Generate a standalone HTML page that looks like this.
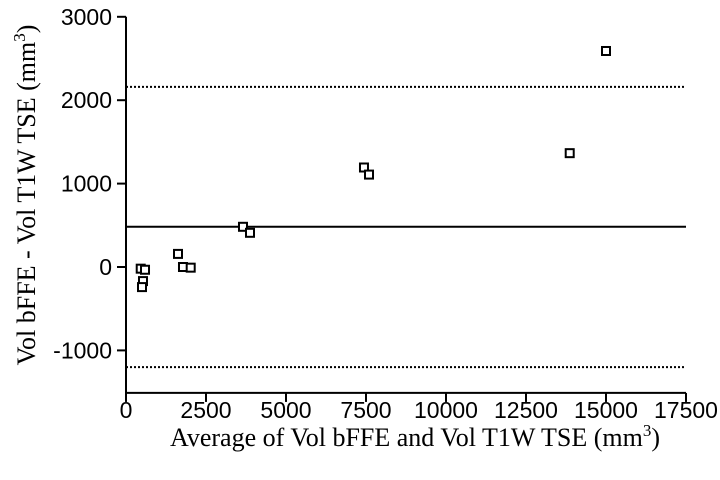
<!DOCTYPE html>
<html><head><meta charset="utf-8"><style>
body{margin:0;background:#fff;}
svg{display:block;}
</style></head><body>
<svg id="chart" width="720" height="480" xmlns="http://www.w3.org/2000/svg">
<g id="axes"></g>
<g id="marks"></g>
<text x="415" y="446" text-anchor="middle" font-family="Liberation Serif, serif" font-size="26" fill="#000">Average of Vol bFFE and Vol T1W TSE (mm<tspan dy="-10" font-size="17">3</tspan><tspan dy="10">)</tspan></text>
<text transform="translate(35,195) rotate(-90)" text-anchor="middle" font-family="Liberation Serif, serif" font-size="26" fill="#000">Vol bFFE - Vol T1W TSE (mm<tspan dy="-10" font-size="17">3</tspan><tspan dy="10">)</tspan></text>
</svg>
<script>
const xTicks=[0,2500,5000,7500,10000,12500,15000,17500];
const yTicks=[-1000,0,1000,2000,3000];
const avgValues=[460,594,531,500,1625,1781,2022,3656,3875,7437,7594,13866,15000];
const diffValues=[-20,-33,-169,-241,157,0,-8,482,410,1193,1108,1365,2590];
const meanDiff=482;
const upperLimit=2160;
const lowerLimit=-1200;
const yBottom=-1510;
const NS='http://www.w3.org/2000/svg';
const X=v=>126+v*0.032;
const Y=v=>267-v*0.0834;
const axes=document.getElementById('axes'),marks=document.getElementById('marks');
function mk(tag,attrs,parent){const e=document.createElementNS(NS,tag);for(const k in attrs)e.setAttribute(k,attrs[k]);parent.appendChild(e);return e;}
let e;
e=mk('line',{x1:126,y1:Y(3000),x2:126,y2:Y(yBottom),stroke:'#000','stroke-width':2},axes);


e=mk('line',{x1:125,y1:Y(yBottom),x2:X(17500),y2:Y(yBottom),stroke:'#000','stroke-width':2},axes);


yTicks.forEach(t=>{
 e=mk('line',{x1:117,y1:Y(t),x2:126,y2:Y(t),stroke:'#000','stroke-width':2},axes);
 
 
 e=mk('text',{x:112,y:Y(t)+8,'text-anchor':'end','font-family':'Liberation Sans, sans-serif','font-size':23},axes);
 e.textContent=t;
 
 
});
xTicks.forEach(t=>{
 e=mk('line',{x1:X(t),y1:Y(yBottom),x2:X(t),y2:Y(yBottom)+9,stroke:'#000','stroke-width':2},axes);
 
 
 e=mk('text',{x:X(t),y:Y(yBottom)+25,'text-anchor':'middle','font-family':'Liberation Sans, sans-serif','font-size':23},axes);
 e.textContent=t;
 
 
});
e=mk('line',{x1:126,y1:Y(meanDiff),x2:X(17500),y2:Y(meanDiff),stroke:'#000','stroke-width':2},axes);


e=mk('line',{x1:126,y1:Y(upperLimit),x2:X(17500),y2:Y(upperLimit),stroke:'#000','stroke-width':2,'stroke-dasharray':'2,2'},axes);


e=mk('line',{x1:126,y1:Y(lowerLimit),x2:X(17500),y2:Y(lowerLimit),stroke:'#000','stroke-width':2,'stroke-dasharray':'2,2'},axes);


avgValues.forEach((v,i)=>{
 e=mk('rect',{x:X(v)-4,y:Y(diffValues[i])-4,width:8,height:8,fill:'#fff',stroke:'#000','stroke-width':2},marks);
 
 
});
</script>
</body></html>
